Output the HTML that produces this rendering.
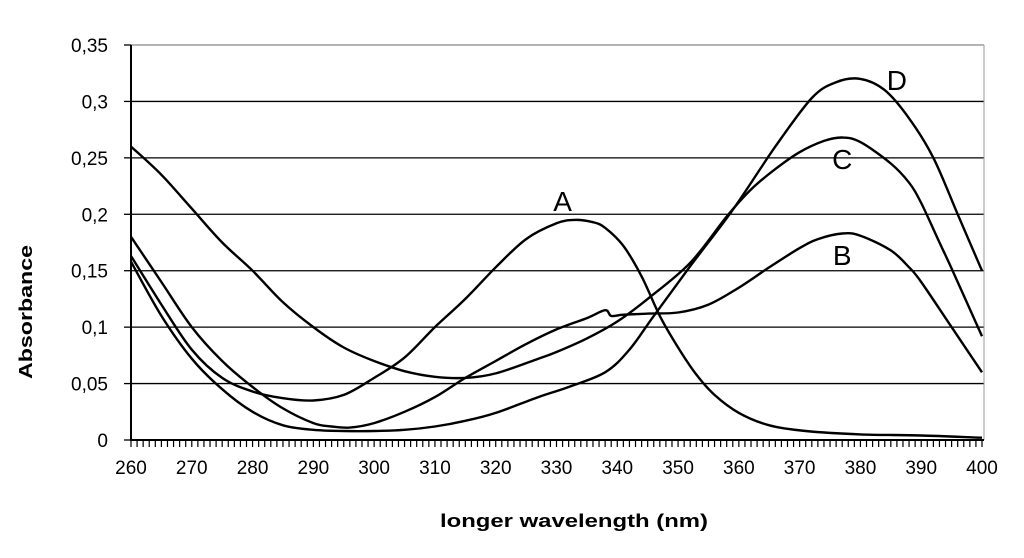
<!DOCTYPE html>
<html><head><meta charset="utf-8"><style>
html,body{margin:0;padding:0;background:#fff;}
svg{display:block;font-family:"Liberation Sans",sans-serif;}
</style></head><body>
<svg id="chart" width="1024" height="558">
<g id="grid"></g>
<g id="axes"></g>
<g id="series"></g>
<text x="574" y="527" text-anchor="middle" font-size="18" font-weight="bold" textLength="268" lengthAdjust="spacingAndGlyphs">longer wavelength (nm)</text>
<text transform="translate(32,312) rotate(-90)" text-anchor="middle" font-size="18" font-weight="bold" textLength="134" lengthAdjust="spacingAndGlyphs">Absorbance</text>
</svg>
<script>
const yTicks=[0,0.05,0.1,0.15,0.2,0.25,0.3,0.35];
const yTickLabels=["0","0,05","0,1","0,15","0,2","0,25","0,3","0,35"];
const xTicks=[260,270,280,290,300,310,320,330,340,350,360,370,380,390,400];
const nmA=[260,265,270,275,280,285,290,295,300,305,310,315,320,325,330,333,336,338,341,344,347,350,353,356,360,365,371,380,390,400];
const valA=[.163,.12,.08,.055,.043,.037,.035,.04,.055,.073,.1,.125,.153,.178,.192,.195,.193,.188,.172,.145,.11,.082,.058,.04,.024,.013,.008,.005,.004,.002];
const nmB=[260,265,270,275,280,285,290,293,296,300,305,310,315,320,325,330,335,338,339,341,345,350,355,360,365,370,373,377,380,385,388,390,395,400];
const valB=[.18,.14,.1,.07,.047,.028,.015,.012,.011,.015,.025,.038,.055,.07,.085,.098,.108,.115,.11,.111,.112,.113,.12,.135,.153,.17,.178,.183,.181,.168,.153,.14,.1,.06];
const nmC=[260,265,270,275,280,285,290,295,300,305,310,315,320,327,330,335,340,345,352,358,362,366,370,374,377,380,385,388,390,393,395,400];
const valC=[.26,.235,.205,.175,.15,.122,.1,.082,.07,.061,.056,.055,.059,.072,.078,.09,.105,.125,.157,.198,.222,.24,.255,.265,.268,.264,.245,.228,.21,.175,.152,.092];
const nmD=[260,265,270,275,280,285,290,295,300,305,310,315,320,327,332,338,342,346,352,359,366,372,376,380,384,388,392,396,400];
const valD=[.158,.11,.072,.045,.025,.013,.009,.008,.008,.009,.012,.017,.024,.038,.047,.06,.08,.11,.154,.204,.26,.303,.317,.32,.31,.285,.25,.2,.15];
const seriesNames=["A","B","C","D"];
const labelPos=[[331,.203],[377,.155],[377,.24],[386,.31]];

const NS="http://www.w3.org/2000/svg";
const X0=131,X1=982,Y0=440,Y1=45;
const xs=nm=>X0+(nm-260)*(X1-X0)/140;
const ys=v=>Y0-v*(Y0-Y1)/0.35;
function mk(tag,attrs,parent){const e=document.createElementNS(NS,tag);for(const k in attrs)e.setAttribute(k,attrs[k]);parent.appendChild(e);return e;}
const grid=document.getElementById('grid'),axes=document.getElementById('axes'),ser=document.getElementById('series');
yTicks.forEach((t,i)=>{
  if(t>0){const l=mk('line',{x1:X0,x2:984,y1:ys(t),y2:ys(t),stroke:i===yTicks.length-1?'#888':'#000','stroke-width':1.3},grid);
  
  }
  const tk=mk('line',{x1:X0-7,x2:X0,y1:ys(t),y2:ys(t),stroke:'#000','stroke-width':1.3},axes);
  
  
  const tx=mk('text',{x:108,y:ys(t)+7,'text-anchor':'end','font-size':19},axes);
  tx.textContent=yTickLabels[i];
  
  
});
const rb=mk('line',{x1:984,x2:984,y1:Y1,y2:Y0,stroke:'#999','stroke-width':1},axes);


const ya=mk('line',{x1:X0,x2:X0,y1:Y1,y2:Y0+1,stroke:'#000','stroke-width':2},axes);


const xa=mk('line',{x1:X0,x2:984,y1:Y0,y2:Y0,stroke:'#000','stroke-width':2},axes);


for(let n=260;n<=400;n++){
  const t=mk('line',{x1:xs(n),x2:xs(n),y1:Y0,y2:Y0+7,stroke:'#000','stroke-width':1.2},axes);
  
  
}
xTicks.forEach(n=>{
  const tx=mk('text',{x:xs(n),y:474,'text-anchor':'middle','font-size':19},axes);
  tx.textContent=n;
  
  
});
const all=[[nmA,valA],[nmB,valB],[nmC,valC],[nmD,valD]];
function smooth(pts){let d='M'+pts[0][0]+','+pts[0][1];for(let i=0;i<pts.length-1;i++){const p0=pts[i-1]||pts[i],p1=pts[i],p2=pts[i+1],p3=pts[i+2]||p2;const c1=[p1[0]+(p2[0]-p0[0])/6,p1[1]+(p2[1]-p0[1])/6],c2=[p2[0]-(p3[0]-p1[0])/6,p2[1]-(p3[1]-p1[1])/6];d+=' C'+c1[0].toFixed(1)+','+c1[1].toFixed(1)+' '+c2[0].toFixed(1)+','+c2[1].toFixed(1)+' '+p2[0].toFixed(1)+','+p2[1].toFixed(1);}return d;}
all.forEach((s,i)=>{
  const pts=s[0].map((n,j)=>[xs(n),ys(s[1][j])]);
  const p=mk('path',{d:smooth(pts),fill:'none',stroke:'#000','stroke-width':2.4,'stroke-linejoin':'round'},ser);
  
  
  const lb=mk('text',{x:xs(labelPos[i][0]),y:ys(labelPos[i][1]),'text-anchor':'middle','font-size':28,fill:'#000'},ser);
  lb.textContent=seriesNames[i];
  
  
});
</script>
</body></html>
